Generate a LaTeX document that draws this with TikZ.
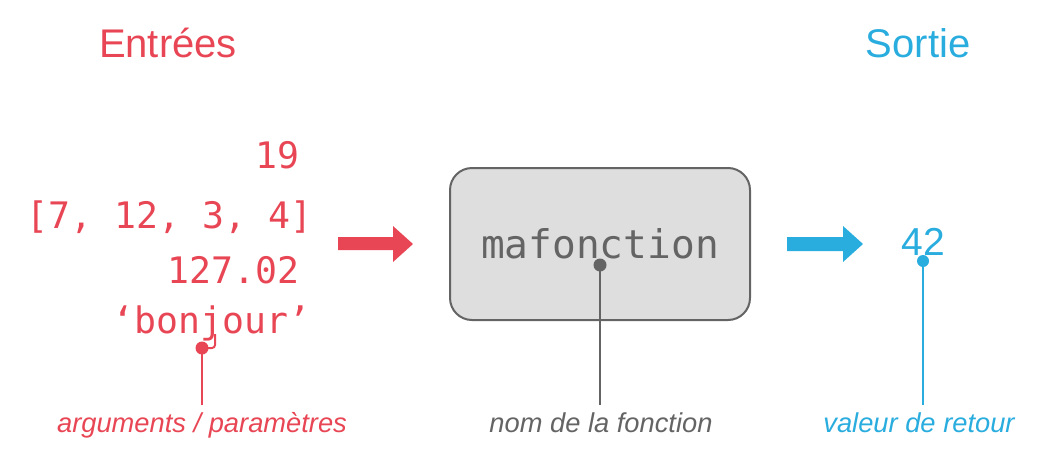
\documentclass[tikz,border=0pt]{standalone}
\usepackage{fontspec}
\setmainfont{Liberation Sans}
\newfontfamily\codefont{DejaVu Sans Mono}
\definecolor{cred}{RGB}{232,70,84}
\definecolor{cblue}{RGB}{41,172,222}
\definecolor{cgray}{RGB}{100,100,100}
\definecolor{cfill}{RGB}{222,222,222}
\begin{document}
\begin{tikzpicture}[x=1pt,y=-1pt,
  txt/.style={inner sep=0pt,outer sep=0pt},
  code/.style={txt,font=\codefont\fontsize{36.5}{40}\selectfont,text=cred,anchor=base east},
  title/.style={txt,font=\fontsize{40}{44}\selectfont,anchor=base},
  lab/.style={txt,font=\itshape\fontsize{27.3}{30}\selectfont,anchor=base},
  lead/.style={line width=2pt},
  dotc/.style={circle,inner sep=0pt,minimum size=13pt}]
\useasboundingbox (0,0) rectangle (1050,469);
% titles
\node[title,text=cred] (tin) at (168,57) {Entrées};
\node[title,text=cblue] (tout) at (918,57) {Sortie};
% inputs
\node[code] (i1) at (299,168) {19};
\node[code] (i2) at (312,228) {[7, 12, 3, 4]};
\node[code] (i3) at (299,283) {127.02};
\node[code] (i4) at (310,333) {‘bonjour’};
% arrows
\fill[cred] (338,237) -- (393,237) -- (393,226) -- (413,244) -- (393,262) -- (393,250) -- (338,250) -- cycle;
\fill[cblue] (787,237) -- (843,237) -- (843,226) -- (863,244) -- (843,262) -- (843,251) -- (787,251) -- cycle;
% function box
\node[draw=cgray,fill=cfill,line width=2pt,rounded corners=22pt,minimum width=300pt,minimum height=152pt,inner sep=0pt] (box) at (600,244) {};
\node[txt,font=\codefont\fontsize{39.5}{44}\selectfont,text=cgray,anchor=base] (fn) at (600,258) {mafonction};
% output
\node[txt,font=\fontsize{39}{42}\selectfont,text=cblue,anchor=base] (out) at (923,255) {42};
% labels
\node[lab,text=cred] (l1) at (202,432) {arguments / paramètres};
\node[lab,text=cgray] (l2) at (601,432) {nom de la fonction};
\node[lab,text=cblue] (l3) at (919,432) {valeur de retour};
% leaders
\node[dotc,fill=cred] (d1) at (202,348) {};
\node[dotc,fill=cgray] (d2) at (600,265) {};
\node[dotc,minimum size=12pt,fill=cblue] (d3) at (923,261) {};
\coordinate (h1) at (215,334);
\draw[lead,cred,rounded corners=3pt] (d1.center) -- (215,348) -- (h1);
\draw[lead,cred] (d1.center) -- (202,405);
\draw[lead,cgray] (d2.center) -- (600,405);
\draw[lead,cblue] (d3.center) -- (923,405);
\end{tikzpicture}
\end{document}
